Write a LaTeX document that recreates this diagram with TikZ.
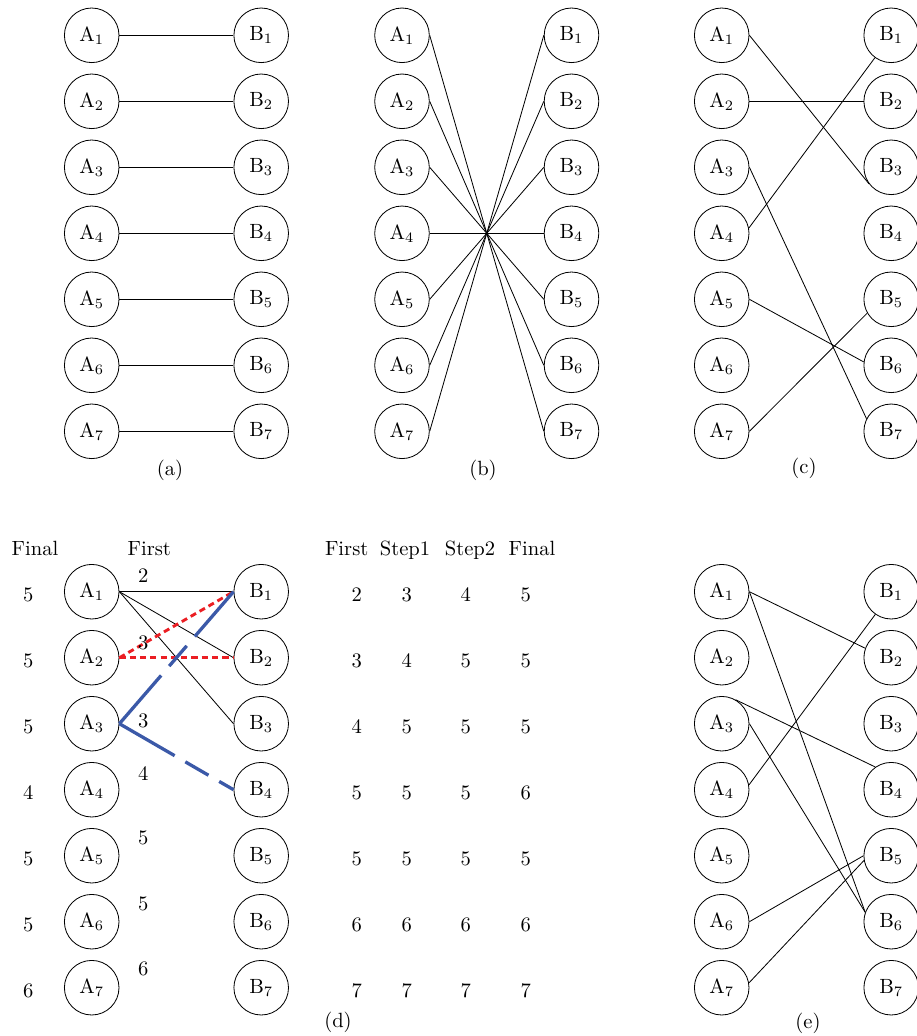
\documentclass[tikz,border=0pt]{standalone}
\usepackage{tikz}
\usetikzlibrary{positioning,calc}
\definecolor{lineblue}{RGB}{59,89,168}
\definecolor{linered}{RGB}{235,30,35}

\begin{document}
\begin{tikzpicture}[x=0.01707cm, y=-0.01707cm,
  vertex/.style={circle, draw, minimum size=0.932cm, inner sep=0pt},
  redlink/.style={linered, line width=1.4pt, dash pattern=on 3pt off 2pt},
  bluelink/.style={lineblue, line width=1.6pt, dash pattern=on 31pt off 6pt on 13pt off 6pt},
  head/.style={anchor=base, inner sep=0pt}]
  \useasboundingbox (0,0) rectangle (917,1036);
  % Sommets (a), (b), (c)
  \foreach \p/\xa in {a/91.7, b/402, c/721.7}
    \foreach \i in {1,...,7} {
      \node[vertex] (\p A\i) at ({\xa}, {35.3+66*(\i-1)}) {A$_\i$};
      \node[vertex] (\p B\i) at ({\xa+169.5}, {35.3+66*(\i-1)}) {B$_\i$};
    }
  % Sommets (d), (e)
  \foreach \p/\xa in {d/91.7, e/721.7}
    \foreach \i in {1,...,7} {
      \node[vertex] (\p A\i) at ({\xa}, {591.7+66*(\i-1)}) {A$_\i$};
      \node[vertex] (\p B\i) at ({\xa+169.5}, {591.7+66*(\i-1)}) {B$_\i$};
    }
  % (a) identite
  \foreach \i in {1,...,7}
    \draw (aA\i.east) -- (aB\i.west);
  % (b) inversion
  \foreach \i in {1,...,7} {
    \pgfmathtruncatemacro\j{8-\i}
    \draw (bA\i.east) -- (bB\j.west);
  }
  % (c)
  \draw (cA1.east) -- (cB3.217);
  \draw (cA2.east) -- (cB2.west);
  \draw (cA3.east) -- (cB7.153);
  \draw (cA4.11) -- (cB1.234);
  \draw (cA5.east) -- (cB6.173);
  \draw (cA7.east) -- (cB5.210);
  % (d)
  \foreach \j in {1,2,3}
    \draw (dA1.east) -- (dB\j.west);
  \draw[redlink] (dA2.east) -- (dB1.west);
  \draw[redlink] (dA2.east) -- (dB2.west);
  \draw[bluelink] (dA3.east) -- (dB1.west);
  \draw[bluelink] (dA3.east) -- (dB4.west);
  \node[head] (hfinal) at (35,555.5) {Final};
  \node[head] (hfirst) at (149.3,555.5) {First};
  \foreach \i/\v in {1/5, 2/5, 3/5, 4/4, 5/5, 6/5, 7/6}
    \node (fin\i) at (28.3, {594.7+66*(\i-1)}) {\v};
  \foreach \y/\v [count=\i] in {575.7/2, 643.3/3, 720.7/3, 774/4, 838.3/5, 904/5, 969.3/6}
    \node (fst\i) at (143.3,\y) {\v};
  % Tableau des etapes
  \node[head] (tfirst) at (346.7,555.5) {First};
  \node[head] (tstep1) at (405,555.5) {Step1};
  \node[head] (tstep2) at (470,555.5) {Step2};
  \node[head] (tfinal) at (532,555.5) {Final};
  \foreach \i/\a/\b/\c/\d in {1/2/3/4/5, 2/3/4/5/5, 3/4/5/5/5, 4/5/5/5/6,
                              5/5/5/5/5, 6/6/6/6/6, 7/7/7/7/7} {
    \node (ta\i) at (356.7, {594.7+66*(\i-1)}) {\a};
    \node (tb\i) at (406.7, {594.7+66*(\i-1)}) {\b};
    \node (tc\i) at (465.7, {594.7+66*(\i-1)}) {\c};
    \node (td\i) at (525.7, {594.7+66*(\i-1)}) {\d};
  }
  % (e)
  \draw (eA1.east) -- (eB2.160);
  \draw (eA1.east) -- (eB6.160);
  \draw (eA3.60) -- (eB4.125);
  \draw (eA3.east) -- (eB6.160);
  \draw (eA4.10) -- (eB1.235);
  \draw (eA6.east) -- (eB5.west);
  \draw (eA7.10) -- (eB5.190);
  % Legendes
  \node (capa) at (170,470) {(a)};
  \node (capb) at (483,470) {(b)};
  \node (capc) at (804,468) {(c)};
  \node (capd) at (338,1022) {(d)};
  \node (cape) at (808,1023) {(e)};
\end{tikzpicture}
\end{document}
